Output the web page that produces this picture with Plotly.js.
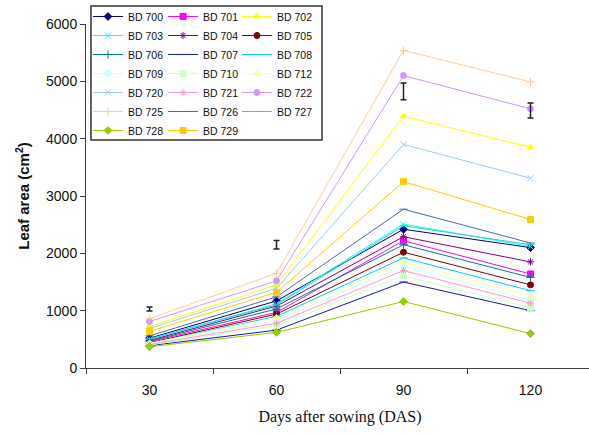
<!DOCTYPE html>
<html>
<head>
<meta charset="utf-8">
<script src="https://cdn.plot.ly/plotly-3.0.1.min.js"></script>
<style>
html,body{margin:0;padding:0;overflow:hidden;background:#fff;}
#chart{width:596px;height:435px;}
</style>
</head>
<body>
<div id="chart"></div>
<script>
// Days after sowing (categories)
const days = ['30', '60', '90', '120'];

// Series names
const names = ['BD 700','BD 701','BD 702','BD 703','BD 704','BD 705','BD 706','BD 707','BD 708','BD 709',
               'BD 710','BD 712','BD 720','BD 721','BD 722','BD 725','BD 726','BD 727','BD 728','BD 729'];

// Leaf area (cm2) per series at 30, 60, 90, 120 DAS
const bd700 = [520, 1170, 2420, 2100];
const bd701 = [460, 970, 2220, 1640];
const bd702 = [720, 1450, 4390, 3850];
const bd703 = [500, 1120, 2510, 2120];
const bd704 = [480, 1080, 2290, 1850];
const bd705 = [440, 940, 2020, 1450];
const bd706 = [470, 1030, 2150, 1580];
const bd707 = [390, 660, 1500, 1000];
const bd708 = [430, 900, 1920, 1350];
const bd709 = [420, 830, 1780, 1180];
const bd710 = [400, 740, 1610, 1050];
const bd712 = [430, 880, 1860, 1250];
const bd720 = [690, 1390, 3900, 3310];
const bd721 = [410, 780, 1700, 1130];
const bd722 = [810, 1520, 5100, 4520];
const bd725 = [860, 1650, 5540, 4990];
const bd726 = [560, 1240, 2770, 2180];
const bd727 = [510, 1100, 2480, 2150];
const bd728 = [370, 620, 1160, 600];
const bd729 = [640, 1320, 3250, 2590];

// Standalone error bars (centre and half-length)
const errCentre = [1030, 2150, 4825, 4490];
const errHalf = [35, 75, 145, 130];

const seriesValues = [bd700, bd701, bd702, bd703, bd704, bd705, bd706, bd707, bd708, bd709,
                      bd710, bd712, bd720, bd721, bd722, bd725, bd726, bd727, bd728, bd729];

const colors = ['#000080','#FF00FF','#FFFF00','#00FFFF','#800080','#800000','#008080','#1A1A9A','#00CCFF','#CCFFFF',
                '#CCFFCC','#FFFF99','#99CCFF','#FF99CC','#CC99FF','#FFCC99','#4A6AB0','#33CCCC','#99CC00','#FFCC00'];
const symbols = ['diamond','square','triangle-up','x-thin-open','asterisk-open','circle','cross-thin-open','line-ew-open','line-ew-open',
                 'diamond','square','triangle-up','x-thin-open','asterisk-open','circle','cross-thin-open','line-ew-open','line-ew-open',
                 'diamond','square'];

const legendIds = ['legend','legend2','legend3'];

const traces = names.map((n, i) => ({
  type: 'scatter',
  mode: 'lines+markers',
  name: n,
  x: days,
  y: seriesValues[i],
  line: {color: colors[i], width: 1},
  marker: {symbol: symbols[i], size: 6, color: colors[i], line: {color: colors[i], width: 1}},
  legend: legendIds[i % 3]
}));

traces.push({
  type: 'scatter',
  mode: 'markers',
  x: days,
  y: errCentre,
  showlegend: false,
  marker: {size: 1, color: 'rgba(0,0,0,0)'},
  error_y: {type: 'data', array: errHalf, visible: true, color: '#222', thickness: 1.5, width: 3}
});

// plot area: left 86, top 24, width 508, height 344
const legendFont = {family: 'Arial, Liberation Sans, sans-serif', size: 10.5, color: '#111'};
const legBase = {orientation: 'v', yanchor: 'top', xanchor: 'left', y: 1.064, bgcolor: 'rgba(0,0,0,0)',
                 borderwidth: 0, font: legendFont, tracegroupgap: 0, itemwidth: 30};

const layout = {
  width: 596,
  height: 435,
  margin: {l: 86, r: 2, t: 24, b: 67},
  paper_bgcolor: '#fff',
  plot_bgcolor: '#fff',
  showlegend: true,
  xaxis: {
    type: 'category',
    range: [-0.5, 3.5],
    showgrid: false,
    zeroline: false,
    showline: true,
    linecolor: '#404040',
    linewidth: 1,
    ticks: 'outside',
    tickson: 'boundaries',
    ticklen: 5,
    tickcolor: '#404040',
    ticklabelstandoff: 9,
    tickfont: {family: 'Arial, Liberation Sans, sans-serif', size: 14, color: '#111'},
    title: {text: 'Days after sowing (DAS)', font: {family: 'Times New Roman, Liberation Serif, serif', size: 16, color: '#111'}, standoff: 14}
  },
  yaxis: {
    range: [0, 6000],
    tickvals: [0, 1000, 2000, 3000, 4000, 5000, 6000],
    showgrid: false,
    zeroline: false,
    showline: true,
    linecolor: '#404040',
    linewidth: 1,
    ticks: 'outside',
    ticklen: 5,
    tickcolor: '#404040',
    tickfont: {family: 'Arial, Liberation Sans, sans-serif', size: 14, color: '#111'},
    title: {text: '<b>Leaf area (cm<sup>2</sup>)</b>', font: {family: 'Arial, Liberation Sans, sans-serif', size: 15, color: '#111'}, standoff: 12}
  },
  legend: Object.assign({}, legBase, {x: 0.0039}),
  legend2: Object.assign({}, legBase, {x: 0.1516}),
  legend3: Object.assign({}, legBase, {x: 0.2972}),
  shapes: [{
    type: 'rect', xref: 'paper', yref: 'paper',
    x0: 0.0098, x1: 0.4646, y0: 0.6628, y1: 1.0523,
    line: {color: '#333', width: 1.5}, fillcolor: 'rgba(0,0,0,0)', layer: 'below'
  }]
};

Plotly.newPlot('chart', traces, layout, {displayModeBar: false, staticPlot: true});
</script>
</body>
</html>
